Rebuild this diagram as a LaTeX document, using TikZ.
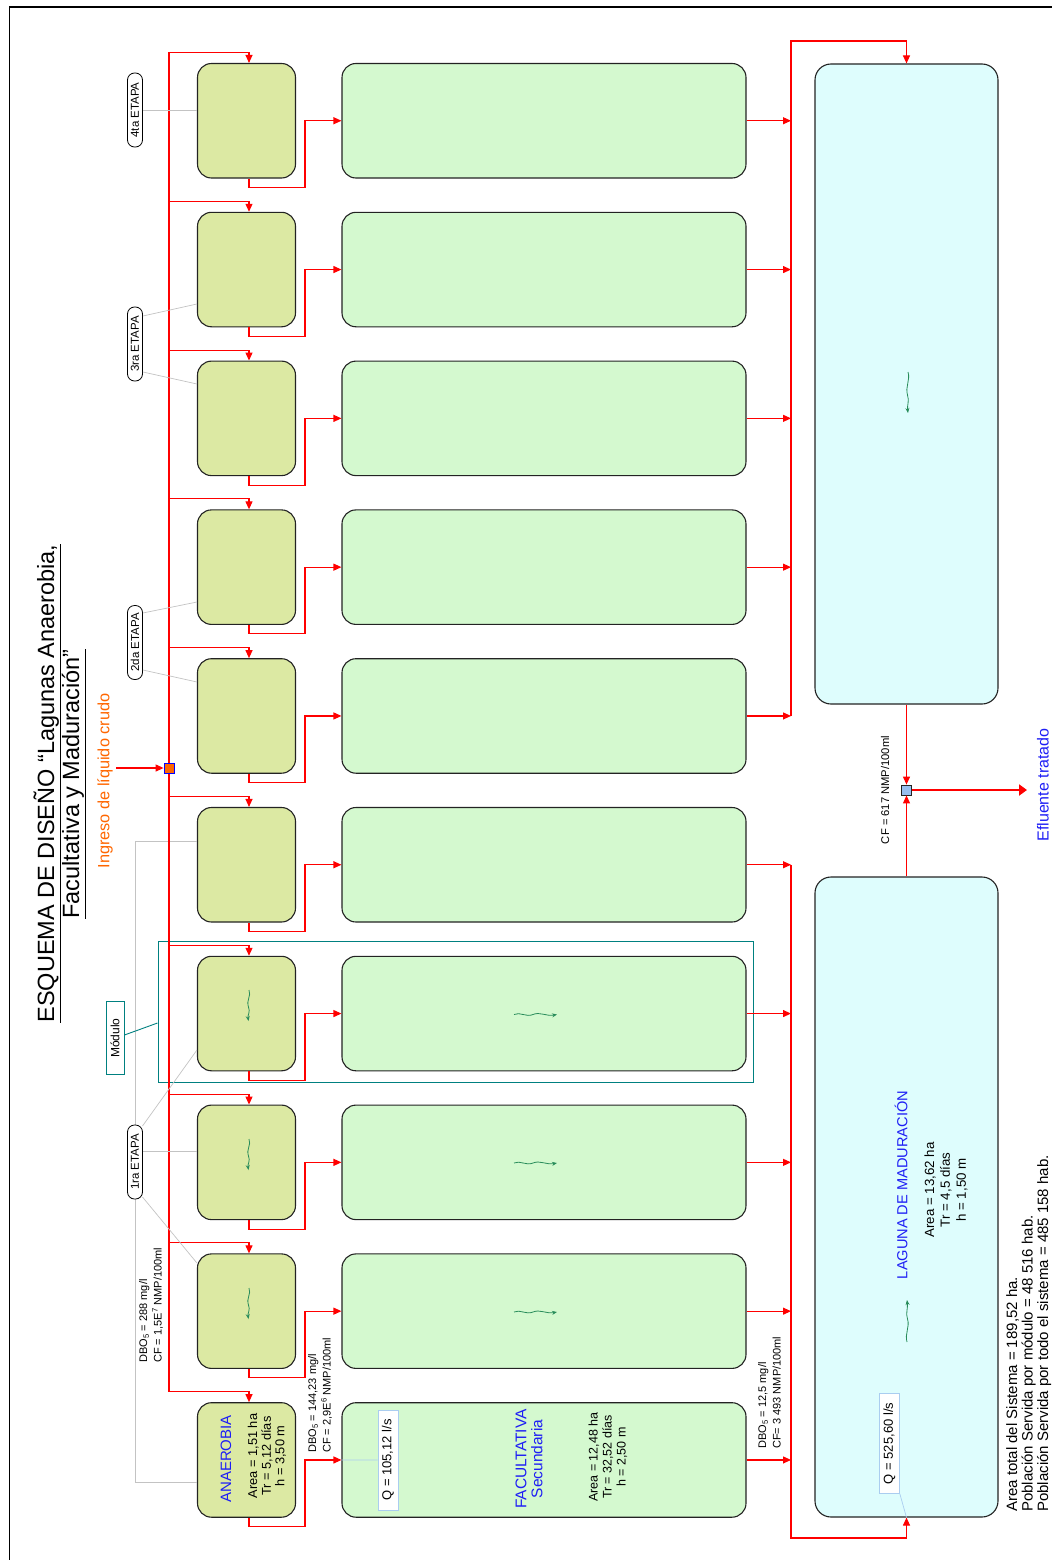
\documentclass[tikz,border=0pt]{standalone}
\usepackage{fontspec}
\setmainfont{Liberation Sans}
\usetikzlibrary{arrows.meta,calc}
\definecolor{anafill}{RGB}{220,233,163}
\definecolor{facfill}{RGB}{212,249,207}
\definecolor{madfill}{RGB}{222,253,253}
\definecolor{pondline}{RGB}{35,35,35}
\definecolor{flowred}{RGB}{255,0,0}
\definecolor{tealc}{RGB}{0,128,128}
\definecolor{graylink}{RGB}{195,195,195}
\definecolor{bluetxt}{RGB}{30,30,245}
\definecolor{orangetxt}{RGB}{255,102,0}
\definecolor{squigc}{RGB}{40,140,90}
\definecolor{qline}{RGB}{170,205,240}
\definecolor{sqblue}{RGB}{150,190,240}
\newcommand\myfs[2]{\fontsize{#1}{#2}\selectfont}
\begin{document}
\begin{tikzpicture}[x=1pt,y=-1pt,
  pond/.style={draw=pondline, line width=1.1pt, rounded corners=14pt, inner sep=0pt},
  ana/.style={pond, fill=anafill, minimum width=98pt, minimum height=114.5pt},
  fac/.style={pond, fill=facfill, minimum width=404pt, minimum height=114.5pt},
  mad/.style={pond, fill=madfill, minimum width=183pt, minimum height=640pt, rounded corners=16pt},
  flow/.style={draw=flowred, line width=1.1pt, -{Triangle[length=8pt,width=7pt]}},
  redline/.style={draw=flowred, line width=1.1pt},
  glink/.style={draw=graylink, line width=0.7pt},
  rot/.style={rotate=90, inner sep=0pt},
  etapa/.style={rot, draw=black, line width=0.8pt, fill=white, rounded corners=7pt, minimum width=74pt, minimum height=15pt, font=\myfs{11.5}{13}},
  squig/.style={draw=squigc, line width=0.8pt, -{Stealth[length=5pt,width=4pt]}},
  qbox/.style={rot, draw=qline, line width=0.7pt, fill=white, minimum width=100pt, minimum height=20pt, font=\myfs{13}{15}},
]
\useasboundingbox (0,0) rectangle (1052,1560);
\clip (0,0) rectangle (1052,1560);

% frame
\coordinate (fr1) at (9.5,1560);
\coordinate (fr2) at (9.5,7);
\coordinate (fr3) at (1052,7);
\draw[line width=1.5pt] (fr1) -- (fr2) -- (fr3);

% module box
\node[draw=tealc, line width=1pt, minimum width=595pt, minimum height=141pt, inner sep=0pt] (modbox) at (455.5,1011.5) {};

% gray bracket for 1ra etapa
\coordinate (gb1) at (135,841);
\coordinate (gb2) at (135,1482);

% ponds
\foreach \i in {1,...,10}{
  \pgfmathsetmacro{\c}{120.75+(\i-1)*148.8}
  \node[ana] (a\i) at (246.5,\c) {};
  \node[fac] (fa\i) at (544,\c) {};
}
\node[mad] (m1) at (906.5,384) {};
\node[mad] (m2) at (906.5,1197) {};

\draw[glink] (a6.west |- gb1) -- (gb1) -- (gb2) -- (a10.west |- gb2);

% flows
\foreach \i in {1,...,10}{
  \pgfmathsetmacro{\c}{120.75+(\i-1)*148.8}
  \pgfmathsetmacro{\bt}{\c-57.25-11}
  \pgfmathsetmacro{\bb}{\c+57.25+9.5}
  \coordinate (fd\i) at (169,\bt);
  \coordinate (cl\i) at (791,\c);
  \draw[flow] (fd\i) -| ([xshift=2.5pt]a\i.north);
  \draw[flow] ([xshift=2.5pt]a\i.south) -- (249,\bb) -- (305,\bb) -- (305,\c) -- (fa\i.west);
  \draw[flow] (fa\i.east) -- (cl\i);
}
\draw[redline] (fd1) -- (fd10);

% collectors
\coordinate (ctop) at (791,41);
\coordinate (cbot) at (791,1538);
\draw[flow] (cl5) -- (ctop) -- (m1.north |- ctop) -- (m1.north);
\draw[flow] (cl6) -- (cbot) -- (m2.south |- cbot) -- (m2.south);

% effluent
\node[draw=pondline, fill=sqblue, line width=0.8pt, minimum size=10pt, inner sep=0pt] (sq) at (906.5,790) {};
\draw[flow] (m1.south) -- (sq.north);
\draw[flow] (m2.north) -- (sq.south);
\coordinate (eff) at (1027,790);
\draw[draw=flowred, line width=2.8pt, -{Triangle[length=8pt,width=11pt]}] (sq.east) -- (eff);
\node[rot, font=\myfs{16}{18}, text=bluetxt] (efft) at (1043,785) {Efluente tratado};
\node[rot, font=\myfs{11.2}{13}] (cf617) at (885,790) {CF = 617 NMP/100ml};

% ingreso
\node[draw=blue, fill=orangetxt, line width=0.8pt, minimum size=10pt, inner sep=0pt] (sqin) at (169,768) {};
\coordinate (ing) at (116,768);
\draw[flow] (ing) -- (sqin.west);
\node[rot, font=\myfs{16.3}{18}, text=orangetxt] (ingt) at (105,781) {Ingreso de líquido crudo};

% title
\node[rot, anchor=base, font=\myfs{23.5}{28}] (t1) at (54,783.5) {\underline{ESQUEMA DE DISEÑO “Lagunas Anaerobia,}};
\node[rot, anchor=base, font=\myfs{23.5}{28}] (t2) at (79,784) {\underline{Facultativa y Maduración”}};

% etapas
\node[etapa] (e4) at (135,110) {4ta ETAPA};
\node[etapa] (e3) at (135,344) {3ra ETAPA};
\node[etapa] (e2) at (135,642.5) {2da ETAPA};
\coordinate (l1ra) at (135,1162);
\draw[glink] (e4.south) -- (a1.west |- e4.south);
\draw[glink] ([yshift=28pt]e3.south) -- (a2.west |- 0,304);
\draw[glink] ([yshift=-28pt]e3.south) -- (a3.west |- 0,384);
\draw[glink] ([yshift=29.5pt]e2.south) -- (a4.west |- 0,602);
\draw[glink] ([yshift=-27.5pt]e2.south) -- (a5.west |- 0,682);
\draw[glink] ([xshift=7.5pt,yshift=36pt]l1ra) -- (a7.west |- 0,1050);
\draw[glink] ([xshift=7.5pt,yshift=11pt]l1ra) -- (a8.west |- 0,1151);
\draw[glink] ([xshift=7.5pt,yshift=-35pt]l1ra) -- (a9.west |- 0,1263);
\node[etapa] (e1) at (l1ra) {1ra ETAPA};

% modulo label
\node[rot, draw=tealc, line width=0.9pt, fill=white, minimum width=73pt, minimum height=18pt, font=\myfs{12}{14}] (modl) at (115,1038) {Módulo};
\draw[draw=tealc, line width=0.9pt] ([yshift=3pt]modl.south) -- (modbox.west |- 0,1023);

% squiggles
\foreach \y in {990,1139,1288}{
  \draw[squig] (249,\y) .. controls (251.5,\y+6) and (246,\y+10) .. (248.5,\y+17) .. controls (250.5,\y+22) and (247.5,\y+25) .. (248.5,\y+31);
}
\foreach \y in {1014.5,1163,1312}{
  \draw[squig] (514,\y) .. controls (520,\y-3) and (526,\y+3) .. (533,\y) .. controls (540,\y-3) and (546,\y+2) .. (557,\y);
}
\draw[squig] (908,372) .. controls (910.5,380) and (905,387) .. (907.5,395) .. controls (909.5,401) and (907,405) .. (908,413);
\draw[squig] (907,1342) .. controls (904.5,1334) and (910,1327) .. (907.5,1319) .. controls (905.5,1313) and (908,1309) .. (907,1300);

% anaerobia texts
\node[rot, font=\myfs{15}{17}, text=bluetxt] (anat) at (226,1459) {ANAEROBIA};
\node[rot, align=center, font=\myfs{12.8}{13.6}] (anad) at (267,1456) {Area = 1,51 ha\\Tr = 5,12 días\\h = 3,50 m};

% facultativa texts
\node[rot, align=center, font=\myfs{15.5}{16}, text=bluetxt] (fact) at (529,1459) {FACULTATIVA\\Secundaria};
\node[rot, align=center, font=\myfs{12.5}{14}] (facd) at (608,1457) {Area = 12,48 ha\\Tr = 32,52 días\\h = 2,50 m};
\node[qbox] (q1) at (388,1460) {Q = 105,12 l/s};
\draw[draw=qline, line width=0.7pt] (fa10.west) -- (q1.north);

% maduracion texts
\node[rot, font=\myfs{14.6}{17}, text=bluetxt] (madt) at (901,1185) {LAGUNA DE MADURACIÓN};
\node[rot, align=center, font=\myfs{13.3}{15.8}] (madd) at (946,1190) {Area = 13,62 ha\\Tr = 4,5 días\\h = 1,50 m};
\node[qbox] (q2) at (889.5,1443.5) {Q = 525,60 l/s};
\draw[draw=qline, line width=0.7pt] (q2.south west) -- (m2.south);

% DBO labels
\node[rot, anchor=north west, align=left, font=\myfs{11}{14.5}] (dbo1) at (139,1363) {DBO\textsubscript{5} = 288 mg/l\\CF = 1,5E\textsuperscript{7} NMP/100ml};
\node[rot, anchor=north west, align=left, font=\myfs{11}{14.5}] (dbo2) at (308,1453) {DBO\textsubscript{5} = 144,23 mg/l\\CF = 2,9E\textsuperscript{6} NMP/100ml};
\node[rot, anchor=north west, align=left, font=\myfs{11}{14.5}] (dbo3) at (758,1449) {DBO\textsubscript{5} = 12,5 mg/l\\CF= 3 493 NMP/100ml};

% summary
\node[rot, anchor=north west, align=left, font=\myfs{15}{15.5}] (summ) at (1006,1512) {Area total del Sistema = 189,52 ha.\\Población Servida por módulo = 48 516 hab.\\Población Servida por todo el sistema = 485 158 hab.};
\end{tikzpicture}
\end{document}
